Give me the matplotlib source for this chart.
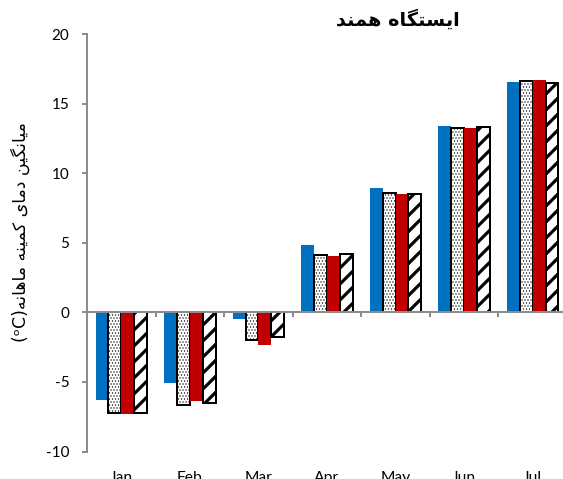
import numpy as np
import matplotlib
matplotlib.use("Agg")
import matplotlib.pyplot as plt

# ---- data -------------------------------------------------------------
months = ["Jan", "Feb", "Mar", "Apr", "May", "Jun", "Jul"]
observed = [-6.3, -5.07, -0.45, 4.87, 8.96, 13.41, 16.55]
model_a = [-7.2, -6.67, -1.96, 4.13, 8.58, 13.24, 16.60]
model_b = [-7.27, -6.39, -2.32, 4.06, 8.50, 13.27, 16.67]
model_c = [-7.2, -6.55, -1.79, 4.22, 8.53, 13.31, 16.50]
y_ticks = [-10, -5, 0, 5, 10, 15, 20]

title_fa = "ایستگاه همند"
ylabel_fa = "میانگین دمای کمینه ماهانه"
ylabel_unit = "(ᵒC)"

# ---- minimal Persian shaping (matplotlib has no complex text layout) --
FORMS = {
    "ا": ("\uFE8D", "\uFE8E", None, None),
    "د": ("\uFEA9", "\uFEAA", None, None),
    "ت": ("\uFE95", "\uFE96", "\uFE97", "\uFE98"),
    "س": ("\uFEB1", "\uFEB2", "\uFEB3", "\uFEB4"),
    "م": ("\uFEE1", "\uFEE2", "\uFEE3", "\uFEE4"),
    "ن": ("\uFEE5", "\uFEE6", "\uFEE7", "\uFEE8"),
    "ه": ("\uFEE9", "\uFEEA", "\uFEEB", "\uFEEC"),
    "ی": ("\uFBFC", "\uFBFD", "\uFBFE", "\uFBFF"),
    "گ": ("\uFB92", "\uFB93", "\uFB94", "\uFB95"),
    "ک": ("\uFB8E", "\uFB8F", "\uFB90", "\uFB91"),
}


def shape_fa(text):
    out = []
    for i, ch in enumerate(text):
        if ch not in FORMS:
            out.append(ch)
            continue
        prev = text[i - 1] if i > 0 else ""
        nxt = text[i + 1] if i + 1 < len(text) else ""
        joins_prev = prev in FORMS and FORMS[prev][2] is not None
        joins_next = FORMS[ch][2] is not None and nxt in FORMS
        iso, fin, ini, med = FORMS[ch]
        if joins_prev and joins_next:
            out.append(med)
        elif joins_prev:
            out.append(fin)
        elif joins_next:
            out.append(ini)
        else:
            out.append(iso)
    return "".join(reversed(out))


# ---- figure -----------------------------------------------------------
DPI = 144
W, H = 563, 479
plt.rcParams["axes.unicode_minus"] = False
plt.rcParams["font.family"] = ["Lato", "DejaVu Sans"]

fig = plt.figure(figsize=(W / DPI, H / DPI), dpi=DPI)
ax_left, ax_bottom_px, ax_top_px = 87, 451.5, 34
cat_px = 68.57
ax = fig.add_axes([ax_left / W, (H - ax_bottom_px) / H,
                   7 * cat_px / W, (ax_bottom_px - ax_top_px) / H])

x = np.arange(len(months))
w = 0.187
blue = "#0070C0"
red = "#C00000"

ax.bar(x - 1.5 * w, observed, w, color=blue, linewidth=0, zorder=2)

dots = ax.bar(x - 0.5 * w, model_a, w, facecolor="white", edgecolor="black",
              hatch="........", linewidth=1.0, zorder=2)
ax.bar(x + 0.5 * w, model_b, w, color=red, linewidth=0, zorder=2)
stripes = ax.bar(x + 1.5 * w, model_c, w, facecolor="white", edgecolor="black",
                 hatch="///", linewidth=1.0, zorder=2)

for p in dots:
    if hasattr(p, "set_hatch_linewidth"):
        p.set_hatch_linewidth(0.35)
for p in stripes:
    if hasattr(p, "set_hatch_linewidth"):
        p.set_hatch_linewidth(1.6)

ax.set_xlim(-0.5, len(months) - 0.5)
ax.set_ylim(-10, 20)
ax.set_yticks(y_ticks)

axis_grey = "#8c8c8c"
for s in ("top", "right"):
    ax.spines[s].set_visible(False)
ax.spines["left"].set_color(axis_grey)
ax.spines["left"].set_linewidth(1.0)
ax.spines["bottom"].set_position(("data", 0))
ax.spines["bottom"].set_color(axis_grey)
ax.spines["bottom"].set_linewidth(1.0)
ax.spines["bottom"].set_zorder(3)

# category boundary ticks on the zero line
ax.set_xticks(x[:-1] + 0.5)
ax.set_xticklabels([])
ax.tick_params(axis="x", direction="out", length=2.6, width=1.0,
               color=axis_grey)
ax.tick_params(axis="y", direction="out", length=2.6, width=1.0,
               color=axis_grey, labelsize=7.6, pad=6.2, labelcolor="black")

# month names along the bottom of the plot area
sec = ax.secondary_xaxis("bottom")
sec.set_xticks(x, months)
sec.spines["bottom"].set_visible(False)
sec.tick_params(axis="x", length=0, labelsize=7.8, pad=9.8)

ax.set_ylabel(ylabel_unit + shape_fa(ylabel_fa), family=["DejaVu Sans"],
              fontsize=8.7, va="center")
ax.yaxis.set_label_coords((20 - ax_left) / (7 * cat_px),
                          (ax_bottom_px - 232.5) / (ax_bottom_px - ax_top_px))

fig.text(397.5 / W, 1 - 19 / H, shape_fa(title_fa), family=["DejaVu Sans"],
         fontsize=9.6, fontweight="bold", ha="center", va="center")

fig.savefig("out.png", dpi=DPI)
